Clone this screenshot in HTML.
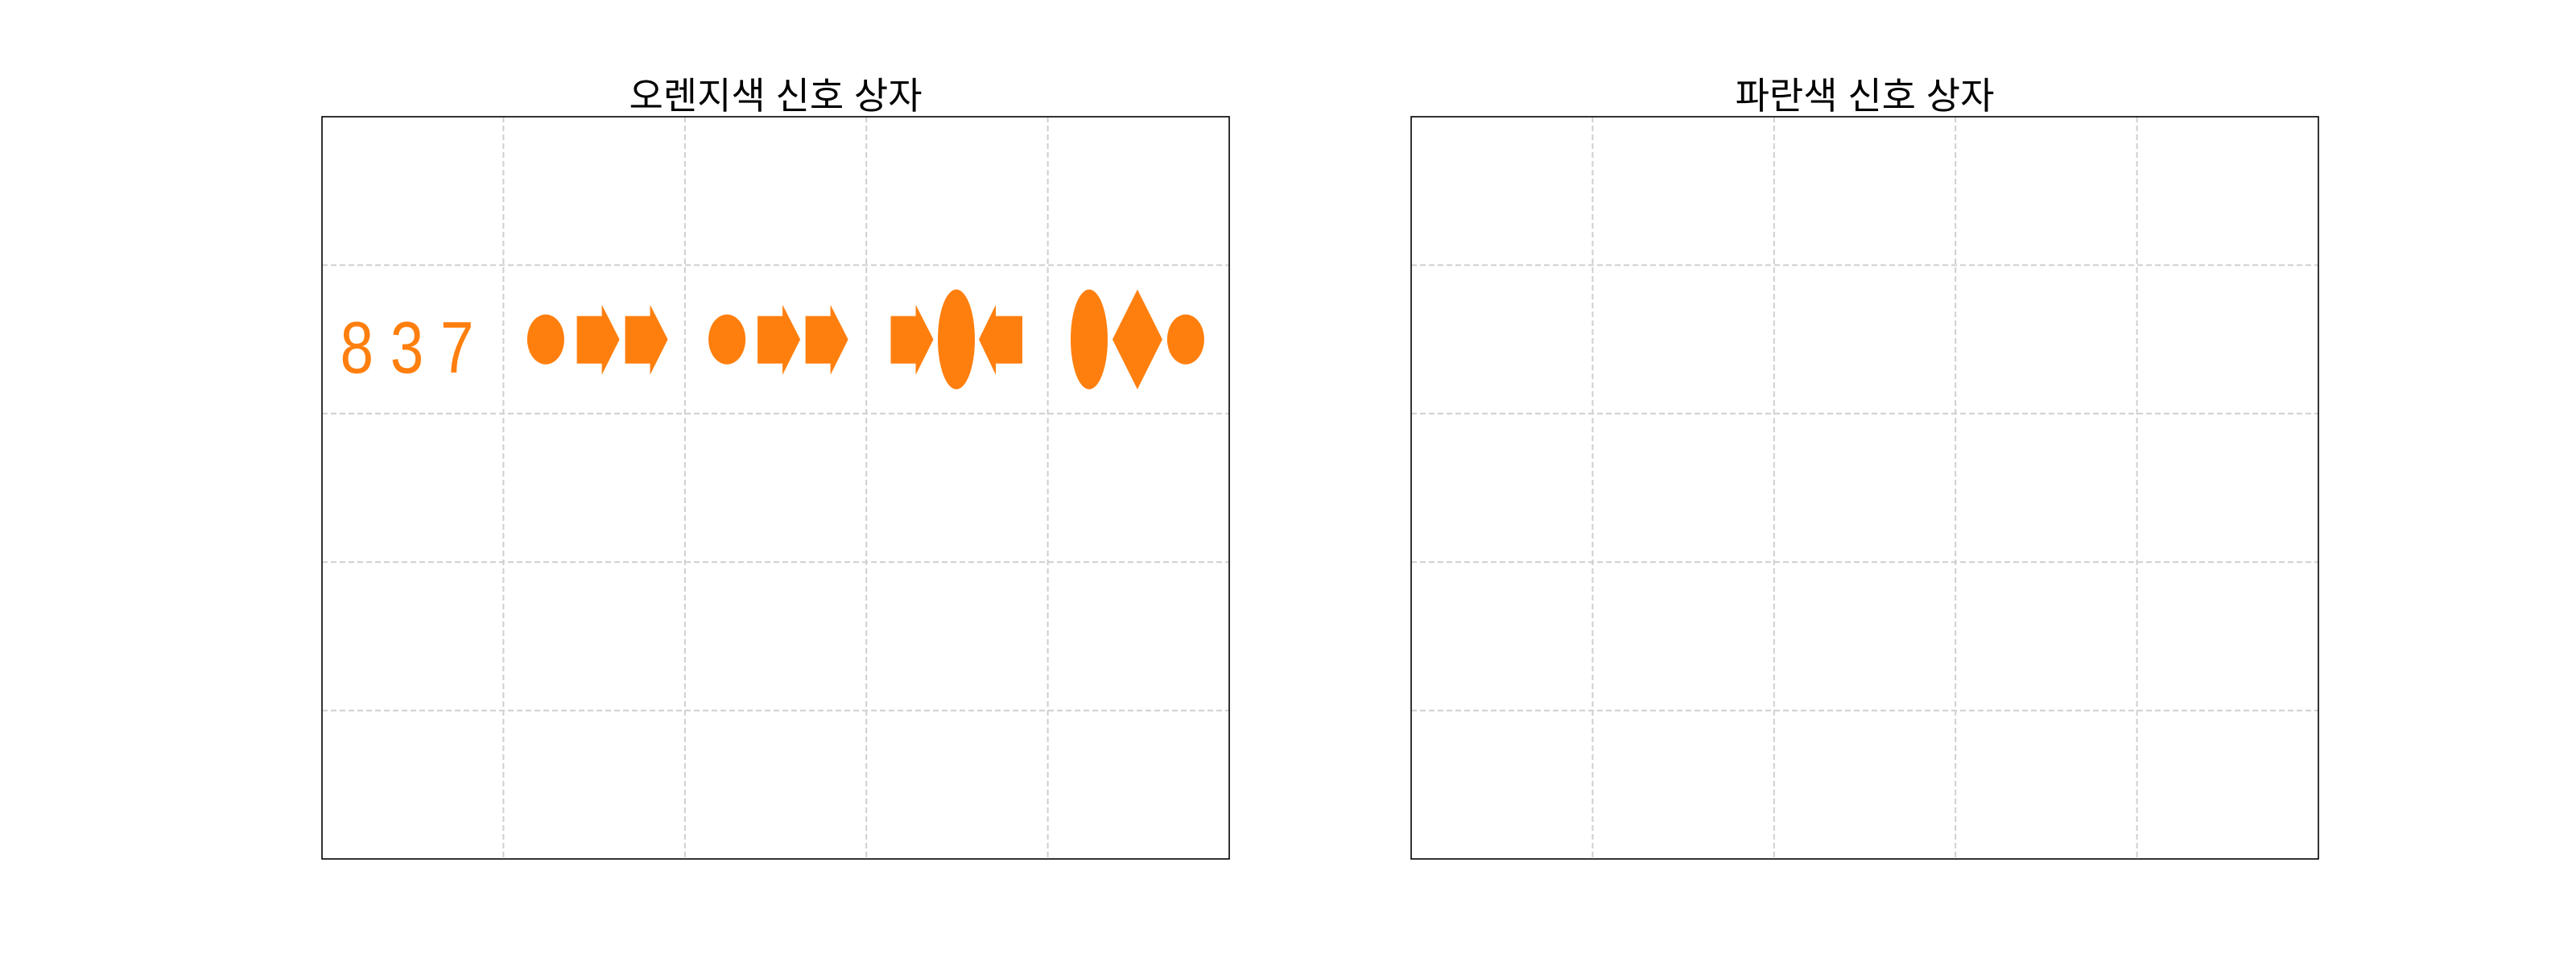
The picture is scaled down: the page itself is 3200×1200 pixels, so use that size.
<!DOCTYPE html>
<html><head><meta charset="utf-8"><style>
html,body{margin:0;padding:0;background:#fff;}
svg{display:block;}
text{font-family:"Liberation Sans","Noto Sans CJK KR","NanumGothic",sans-serif;}
</style></head><body>
<svg id="fig" width="3200" height="1200" viewBox="0 0 3200 1200"></svg>
<script>
// ---- data ----
const panelTitles = ['오렌지색 신호 상자', '파란색 신호 상자'];
const labelText = '8 3 7';
const labelX = [0.1];
const labelY = [3.275];
const markerTypes = ['ellipse','arrowR','arrowR','ellipse','arrowR','arrowR','arrowR','bigEllipse','arrowL','bigEllipse','diamond','ellipse'];
const markerX = [1.233,1.52,1.786,2.232,2.516,2.78,3.25,3.496,3.74,4.228,4.494,4.76];
const markerY = [3.5,3.5,3.5,3.5,3.5,3.5,3.5,3.5,3.5,3.5,3.5,3.5];
const gridTicks = [1,2,3,4];

const NS='http://www.w3.org/2000/svg';
const svg=document.getElementById('fig');
const panels=[{x0:400,x1:1527},{x0:1753,x1:2880}];
const Y0=145,Y1=1067;
function mk(tag,attrs,parent){const e=document.createElementNS(NS,tag);for(const k in attrs)e.setAttribute(k,attrs[k]);(parent||svg).appendChild(e);return e;}

panels.forEach((p,pi)=>{
  const g=mk('g',{});
  
  
  const sx=v=>p.x0+(p.x1-p.x0)*v/5;
  const sy=v=>Y1-(Y1-Y0)*v/5;
  gridTicks.forEach(t=>{
    const l=mk('line',{x1:sx(t),x2:sx(t),y1:Y0,y2:Y1,stroke:'#cfcfcf','stroke-width':2,'stroke-dasharray':'7,4'},g);
    
    
    const h=mk('line',{x1:p.x0,x2:p.x1,y1:sy(t),y2:sy(t),stroke:'#cfcfcf','stroke-width':2,'stroke-dasharray':'7,4'},g);
    
    
  });
  const r=mk('rect',{x:p.x0,y:Y0,width:p.x1-p.x0,height:Y1-Y0,fill:'none',stroke:'#000','stroke-width':1.6},g);
  
  
  const t=mk('text',{x:(p.x0+p.x1)/2,y:135,'text-anchor':'middle','font-size':46,fill:'#000'},g);
  t.textContent=panelTitles[pi];
  
  

  if(pi===0){
    const c='#ff7f0e';
    const lt=mk('text',{x:sx(labelX[0]),y:sy(labelY[0]),'font-size':91,fill:c,textLength:166,lengthAdjust:'spacingAndGlyphs'},g);
    lt.textContent=labelText;
    
    
    markerTypes.forEach((m,i)=>{
      const cx=sx(markerX[i]),cy=sy(markerY[i]);
      let e;
      if(m==='ellipse'){e=mk('ellipse',{cx:cx,cy:cy,rx:23,ry:31,fill:c},g);}
      else if(m==='bigEllipse'){e=mk('ellipse',{cx:cx,cy:cy,rx:23,ry:62,fill:c},g);}
      else if(m==='diamond'){e=mk('polygon',{points:`${cx-31},${cy} ${cx},${cy-62} ${cx+31},${cy} ${cx},${cy+62}`,fill:c},g);}
      else if(m==='arrowR'){const l=cx-26;e=mk('polygon',{points:`${l},${cy-29} ${l+31},${cy-29} ${l+31},${cy-43} ${l+53},${cy} ${l+31},${cy+44} ${l+31},${cy+30} ${l},${cy+30}`,fill:c},g);}
      else if(m==='arrowL'){const rr=cx+27;e=mk('polygon',{points:`${rr},${cy-29} ${rr-33},${cy-29} ${rr-33},${cy-43} ${rr-54},${cy} ${rr-33},${cy+44} ${rr-33},${cy+30} ${rr},${cy+30}`,fill:c},g);}
      
      
    });
  }
});
</script>
</body></html>
